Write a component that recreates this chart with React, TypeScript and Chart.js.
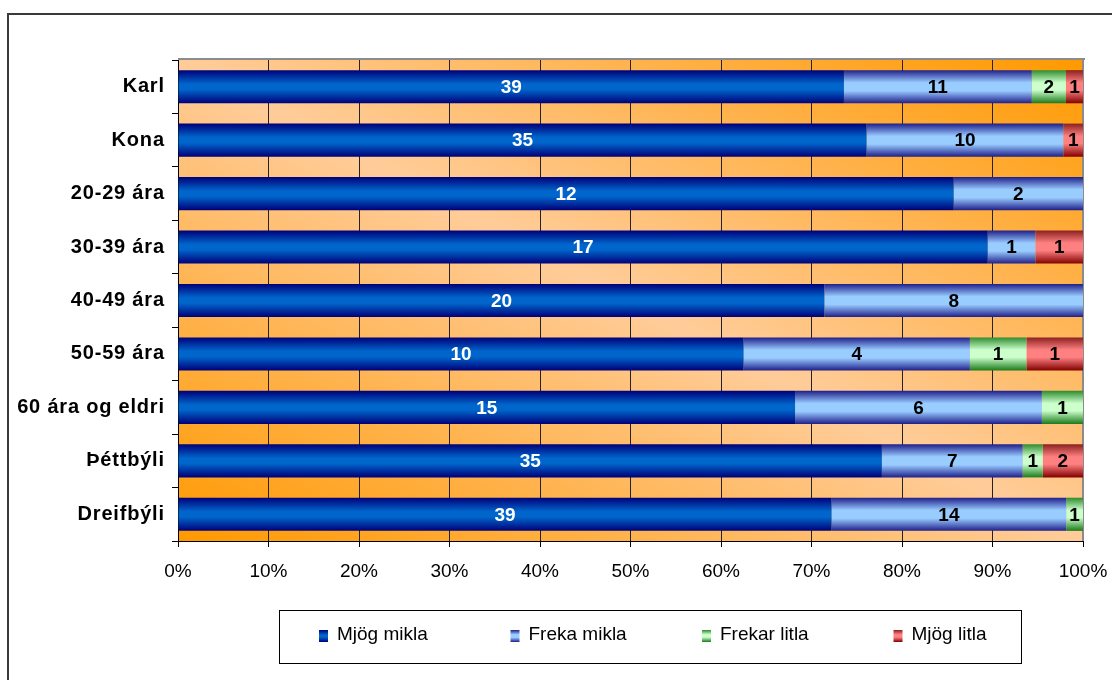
import React, { useEffect, useRef } from 'react';
import { Chart, registerables } from 'chart.js';

Chart.register(...registerables);

const categories = ['Karl', 'Kona', '20-29 ára', '30-39 ára', '40-49 ára', '50-59 ára', '60 ára og eldri', 'Þéttbýli', 'Dreifbýli'];
const seriesNames = ['Mjög mikla', 'Freka mikla', 'Frekar litla', 'Mjög litla'];
const mjogMikla = [39, 35, 12, 17, 20, 10, 15, 35, 39];
const frekaMikla = [11, 10, 2, 1, 8, 4, 6, 7, 14];
const frekarLitla = [2, 0, 0, 0, 0, 1, 1, 1, 1];
const mjogLitla = [1, 1, 0, 1, 0, 1, 0, 2, 0];
const xTicks = [0, 10, 20, 30, 40, 50, 60, 70, 80, 90, 100];

const seriesCounts = [mjogMikla, frekaMikla, frekarLitla, mjogLitla];

const FONT = "'Liberation Sans', Arial, Helvetica, sans-serif";
const BAR_PCT = 0.62;

const stopsList: [number, string][][] = [
  [[0, '#000078'], [0.42, '#0066CC'], [0.58, '#0066CC'], [1, '#000078']],
  [[0, '#1F1F8A'], [0.38, '#99CCFF'], [0.62, '#99CCFF'], [1, '#1F1F8A']],
  [[0, '#2E8B2E'], [0.38, '#CCFFCC'], [0.6, '#CCFFCC'], [1, '#1A7A1A']],
  [[0, '#8B2020'], [0.38, '#FF8080'], [0.6, '#FF8080'], [1, '#800000']],
];
const solid = ['#0066CC', '#99CCFF', '#CCFFCC', '#FF8080'];
const labelColors = ['#FFFFFF', '#000000', '#000000', '#000000'];

function totals() {
  return categories.map((_, i) => seriesCounts.reduce((s, arr) => s + arr[i], 0));
}

function makeGradient(ctx: CanvasRenderingContext2D, y0: number, y1: number, stops: [number, string][]) {
  const g = ctx.createLinearGradient(0, y0, 0, y1);
  stops.forEach(([o, c]) => g.addColorStop(o, c));
  return g;
}

const framePlugin = {
  id: 'frame',
  afterLayout(chart: any) {
    const s = chart.scales.y;
    if (s && !s.__spaced) {
      const orig = s.drawLabels.bind(s);
      s.drawLabels = (ca: any) => {
        const ctx = s.ctx as any;
        ctx.save();
        ctx.letterSpacing = '0.8px';
        ctx.translate(0.8, 0);
        orig(ca);
        ctx.restore();
      };
      s.__spaced = true;
    }
  },
  beforeDraw(chart: any) {
    const ctx = chart.ctx as CanvasRenderingContext2D;
    const { left, right, top, bottom } = chart.chartArea;
    ctx.save();
    ctx.fillStyle = '#FFFFFF';
    ctx.fillRect(0, 0, chart.width, chart.height);
    // outer border
    ctx.fillStyle = '#3a3a3a';
    ctx.fillRect(7, 13, chart.width, 2);
    ctx.fillRect(7, 13, 2, chart.height);
    // plot background
    const w = right - left;
    const h = bottom - top;
    const t = (2 * w * h) / (w * w + h * h);
    const g = ctx.createLinearGradient(left, bottom, left + t * h, bottom - t * w);
    g.addColorStop(0, '#FF9900');
    g.addColorStop(0.5, '#FFCC99');
    g.addColorStop(1, '#FF9900');
    ctx.fillStyle = g;
    ctx.fillRect(left, top, w, h);
    ctx.restore();
  },
  beforeDatasetsDraw(chart: any) {
    const ctx = chart.ctx as CanvasRenderingContext2D;
    const { left, right, top, bottom } = chart.chartArea;
    ctx.save();
    ctx.fillStyle = '#8C8C8C';
    ctx.fillRect(left, top - 2, right - left + 2, 2);
    ctx.fillRect(right - 1, top - 2, 2, bottom - top + 2);
    ctx.restore();
  },
  afterDatasetsDraw(chart: any) {
    const ctx = chart.ctx as CanvasRenderingContext2D;
    ctx.save();
    ctx.font = `bold 19px ${FONT}`;
    ctx.textAlign = 'center';
    ctx.textBaseline = 'middle';
    chart.data.datasets.forEach((_: any, di: number) => {
      const meta = chart.getDatasetMeta(di);
      meta.data.forEach((bar: any, i: number) => {
        const count = seriesCounts[di][i];
        if (!count) return;
        const p = bar.getProps(['x', 'y', 'base'], true);
        ctx.fillStyle = labelColors[di];
        ctx.fillText(String(count), (p.x + p.base) / 2, p.y + 1);
      });
    });
    ctx.restore();
  },
  afterDraw(chart: any) {
    const ctx = chart.ctx as CanvasRenderingContext2D;
    ctx.save();
    // legend box
    ctx.strokeStyle = '#000000';
    ctx.lineWidth = 1;
    ctx.strokeRect(279.5, 610.5, 742, 53);
    ctx.font = `19px ${FONT}`;
    ctx.textAlign = 'left';
    ctx.textBaseline = 'middle';
    seriesNames.forEach((name, i) => {
      const mx = 319 + i * 191.5;
      const my = 630;
      ctx.fillStyle = makeGradient(ctx, my, my + 12, stopsList[i]);
      ctx.fillRect(mx, my, 9, 12);
      ctx.fillStyle = '#000000';
      ctx.fillText(name, mx + 18, 635);
    });
    ctx.restore();
  },
};

export default function App() {
  const ref = useRef<HTMLCanvasElement | null>(null);
  useEffect(() => {
    if (!ref.current) return;
    const tot = totals();
    const datasets = seriesCounts.map((arr, di) => ({
      label: seriesNames[di],
      data: arr.map((v, i) => (v / tot[i]) * 100),
      borderWidth: 0,
      barPercentage: BAR_PCT,
      categoryPercentage: 1,
      backgroundColor: (c: any) => {
        const chart = c.chart;
        const y = chart.scales && chart.scales.y;
        if (!chart.chartArea || !y || c.dataIndex === undefined) return solid[di];
        const yc = y.getPixelForValue(c.dataIndex);
        const bh = (y.height / categories.length) * BAR_PCT;
        return makeGradient(chart.ctx, yc - bh / 2, yc + bh / 2, stopsList[di]);
      },
    }));
    const chart = new Chart(ref.current, {
      type: 'bar',
      data: { labels: categories, datasets },
      options: {
        indexAxis: 'y',
        responsive: false,
        animation: false,
        layout: { padding: { top: 60, right: 29, bottom: 99, left: 0 } },
        plugins: { legend: { display: false }, tooltip: { enabled: false } },
        scales: {
          x: {
            stacked: true,
            min: 0,
            max: 100,
            afterBuildTicks: (s: any) => { s.ticks = xTicks.map((v) => ({ value: v })); },
            afterFit: (s: any) => { s.height = 40; s.paddingRight = 0; s.paddingLeft = 0; },
            grid: { color: '#222222', lineWidth: 1, drawTicks: true, tickLength: 6, tickColor: '#000000' },
            border: { display: true, color: '#000000', width: 1 },
            ticks: {
              color: '#000000',
              font: { family: FONT, size: 19 },
              padding: 13,
              maxRotation: 0,
              callback: (v: any) => `${v}%`,
            },
          },
          y: {
            stacked: true,
            afterFit: (s: any) => { s.width = 178; s.paddingTop = 0; s.paddingBottom = 0; },
            grid: { drawOnChartArea: false, drawTicks: true, tickLength: 6, color: '#000000' },
            border: { display: true, color: '#000000', width: 1 },
            ticks: { color: '#000000', font: { family: FONT, size: 20, weight: 'bold' }, padding: 8 },
          },
        },
      },
      plugins: [framePlugin],
    });
    return () => chart.destroy();
  }, []);
  return (
    <div style={{ position: 'fixed', left: 0, top: 0, width: 1112, height: 680 }}>
      <canvas ref={ref} width={1112} height={680} style={{ display: 'block' }} />
    </div>
  );
}
